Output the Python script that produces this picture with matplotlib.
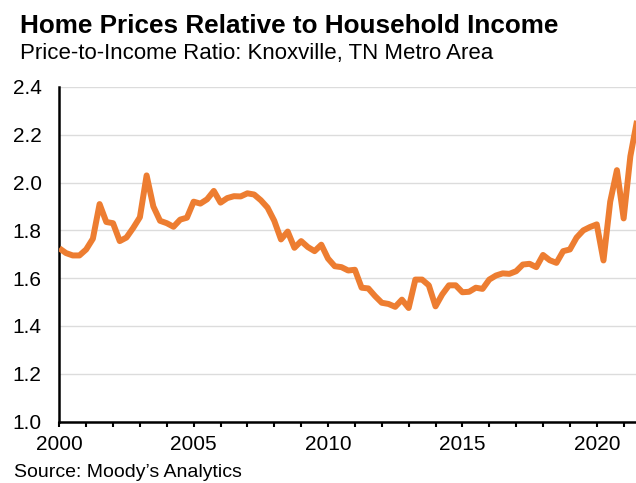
import numpy as np
import matplotlib
matplotlib.use("Agg")
import matplotlib.pyplot as plt
from matplotlib.ticker import MultipleLocator, FuncFormatter

plot_name = "out.png"

title = "Home Prices Relative to Household Income"
subtitle = "Price-to-Income Ratio: Knoxville, TN Metro Area"
source = "Source: Moody\u2019s Analytics"

# quarterly price-to-income ratio, 2000Q1 .. 2021Q3
start_year = 2000
ratio = [
    1.725, 1.705, 1.695, 1.695, 1.72, 1.765, 1.91, 1.835,
    1.83, 1.755, 1.77, 1.81, 1.855, 2.03, 1.90, 1.84,
    1.83, 1.815, 1.845, 1.853, 1.92, 1.912, 1.93, 1.965,
    1.916, 1.935, 1.943, 1.942, 1.955, 1.95, 1.926, 1.895,
    1.84, 1.762, 1.795, 1.727, 1.755, 1.73, 1.713, 1.74,
    1.682, 1.65, 1.646, 1.632, 1.635, 1.56, 1.557, 1.525,
    1.497, 1.492, 1.48, 1.51, 1.475, 1.594, 1.594, 1.57,
    1.482, 1.532, 1.57, 1.57, 1.541, 1.543, 1.56, 1.555,
    1.594, 1.611, 1.62, 1.618, 1.629, 1.657, 1.66, 1.646,
    1.697, 1.675, 1.664, 1.713, 1.72, 1.77, 1.80, 1.814,
    1.825, 1.674, 1.92, 2.052, 1.85, 2.11, 2.26,
]
y_ticks = [1.0, 1.2, 1.4, 1.6, 1.8, 2.0, 2.2, 2.4]

line_color = "#ED7D31"
grid_color = "#dcdcdc"
font = "Liberation Sans"


def year_label(val, pos):
    if abs(val - round(val)) < 1e-6 and int(round(val)) % 5 == 0:
        return str(int(round(val)))
    return ""


def draw_chart():
    fig = plt.figure(figsize=(6.36, 4.83), dpi=100)
    ax = fig.add_axes([0.0932, 0.1273, 0.9068, 0.6926])

    years = start_year + np.arange(len(ratio)) / 4
    ax.plot(years, ratio, color=line_color, lw=4.3, solid_joinstyle="round",
            solid_capstyle="butt", zorder=3)

    ax.set_xlim(2000, 2021.46)
    ax.set_ylim(1.0, 2.4)
    ax.set_yticks(y_ticks)
    ax.yaxis.set_major_formatter(FuncFormatter(lambda v, p: f"{v:.1f}"))
    ax.xaxis.set_major_locator(MultipleLocator(1))
    ax.xaxis.set_major_formatter(FuncFormatter(year_label))

    ax.grid(axis="y", color=grid_color, lw=1.0, zorder=0)
    ax.set_axisbelow(True)
    for side in ["top", "right"]:
        ax.spines[side].set_visible(False)
    for side in ["left", "bottom"]:
        ax.spines[side].set_linewidth(1.8)
        ax.spines[side].set_color("black")

    ax.tick_params(axis="y", length=0, pad=12.7, labelsize=15)
    ax.tick_params(axis="x", direction="out", length=3.5, width=1.5,
                   pad=6, labelsize=15)
    for lab in ax.get_xticklabels() + ax.get_yticklabels():
        lab.set_fontfamily(font)

    fig.text(20 / 636, 1 - 33 / 483, title, fontsize=18.8, fontweight="bold",
             family=font, va="baseline", ha="left")
    fig.text(20 / 636, 1 - 59 / 483, subtitle, fontsize=16,
             family=font, va="baseline", ha="left")
    fig.text(14 / 636, 1 - 477 / 483, source, fontsize=14,
             family=font, va="baseline", ha="left")
    return fig


def main():
    fig = draw_chart()
    fig.savefig(plot_name, dpi=100)


if __name__ == "__main__":
    main()
